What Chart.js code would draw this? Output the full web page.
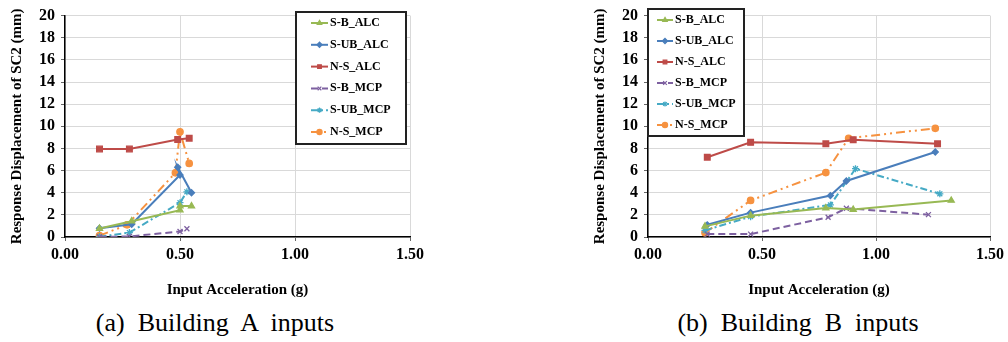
<!DOCTYPE html>
<html>
<head>
<meta charset="utf-8">
<script src="https://cdn.jsdelivr.net/npm/chart.js@4.4.0/dist/chart.umd.min.js"></script>
<style>
body { margin: 0; background: #fff; width: 1008px; height: 342px; overflow: hidden; position: relative; }
.box { position: absolute; top: 0; height: 300px; }
.cap { position: absolute; top: 308px; font-family: 'Liberation Serif', 'Times New Roman', serif; font-size: 26px; white-space: pre; transform: translateX(-50%); color: #000; }
</style>
</head>
<body>
<div class="box" style="left:0;width:500px"><canvas id="chartA"></canvas></div>
<div class="box" style="left:504px;width:504px"><canvas id="chartB"></canvas></div>
<div class="cap" style="left:215px">(a)  Building  A  inputs</div>
<div class="cap" style="left:798px">(b)  Building  B  inputs</div>
<script>
var names = ['S-B_ALC', 'S-UB_ALC', 'N-S_ALC', 'S-B_MCP', 'S-UB_MCP', 'N-S_MCP'];

// Building A inputs: [input acceleration (g), displacement (mm)]
var aSB_ALC  = [[0.15, 0.76], [0.29, 1.43], [0.50, 2.43], [0.50, 2.8], [0.55, 2.8]];
var aSUB_ALC = [[0.15, 0.8], [0.29, 1.15], [0.50, 5.6], [0.49, 6.3], [0.55, 4.0]];
var aNS_ALC  = [[0.15, 7.95], [0.28, 7.95], [0.49, 8.8], [0.54, 8.92]];
var aSB_MCP  = [[0.15, 0.0], [0.28, 0.05], [0.50, 0.5], [0.53, 0.75]];
var aSUB_MCP = [[0.15, 0.02], [0.28, 0.4], [0.50, 3.1], [0.53, 4.08]];
var aNS_MCP  = [[0.15, 0.12], [0.27, 1.1], [0.48, 5.8], [0.50, 9.5], [0.54, 6.65]];

// Building B inputs
var bSB_ALC  = [[0.25, 0.96], [0.45, 1.93], [0.78, 2.62], [0.90, 2.48], [1.33, 3.3]];
var bSUB_ALC = [[0.26, 1.1], [0.45, 2.2], [0.80, 3.74], [0.87, 5.06], [1.26, 7.68]];
var bNS_ALC  = [[0.26, 7.2], [0.45, 8.55], [0.78, 8.42], [0.90, 8.78], [1.27, 8.42]];
var bSB_MCP  = [[0.26, 0.26], [0.45, 0.26], [0.79, 1.78], [0.87, 2.6], [1.23, 2.02]];
var bSUB_MCP = [[0.25, 0.6], [0.45, 1.84], [0.80, 2.9], [0.91, 6.17], [1.28, 3.9]];
var bNS_MCP  = [[0.25, 0.38], [0.45, 3.3], [0.78, 5.82], [0.88, 8.92], [1.26, 9.82]];

var colors = ['#98B954', '#4A7EBB', '#BE4B48', '#7D60A0', '#46AAC5', '#F69240'];
var markers = ['triangle', 'rectRot', 'rect', 'crossRot', 'star', 'circle'];
var radii = [3.5, 3, 4, 3.5, 3.5, 3.2];
var dashes = [[], [], [], [7, 4], [7, 3, 2, 3], [9, 4, 2, 4, 2, 4]];

var serif = "'Liberation Serif', 'Times New Roman', serif";

function makeDatasets(list) {
    return list.map(function (pts, i) {
        return {
            label: names[i],
            data: pts.map(function (p) { return { x: p[0], y: p[1] }; }),
            showLine: true,
            borderColor: colors[i],
            backgroundColor: colors[i],
            borderWidth: 2,
            borderDash: dashes[i],
            pointStyle: markers[i],
            pointRadius: radii[i],
            pointBorderWidth: 1.3,
            pointBorderColor: colors[i],
            pointBackgroundColor: colors[i]
        };
    });
}

// legend box drawn inside the plot, like the Excel one
var boxLegend = {
    id: 'boxLegend',
    afterDraw: function (chart, args, o) {
        var ctx = chart.ctx;
        ctx.save();
        ctx.fillStyle = '#fff';
        ctx.fillRect(o.x, o.y, o.w, o.h);
        ctx.strokeStyle = '#222';
        ctx.lineWidth = 2;
        ctx.strokeRect(o.x, o.y, o.w, o.h);
        chart.data.datasets.forEach(function (ds, i) {
            var cy = o.y + o.first + i * o.rowH;
            var x0 = o.x + o.pad;
            ctx.setLineDash(ds.borderDash);
            ctx.strokeStyle = ds.borderColor;
            ctx.lineWidth = 2;
            ctx.beginPath();
            ctx.moveTo(x0, cy);
            ctx.lineTo(x0 + o.sample, cy);
            ctx.stroke();
            ctx.setLineDash([]);
            ctx.fillStyle = ds.borderColor;
            ctx.lineWidth = 1.2;
            Chart.helpers.drawPoint(ctx, { pointStyle: ds.pointStyle, radius: 2.6, rotation: 0, borderWidth: 1.2 }, x0 + o.sample / 2, cy);
            ctx.fillStyle = '#000';
            ctx.font = 'bold 12px ' + serif;
            ctx.textBaseline = 'middle';
            ctx.textAlign = 'left';
            ctx.fillText(ds.label, x0 + o.sample + 2, cy);
        });
        ctx.restore();
    }
};

function makeChart(id, list, padLeft, padRight, legend) {
    var tickFont = { family: serif, size: 16, weight: 'bold' };
    var grid = { color: '#d9d9d9', tickColor: '#666', tickLength: 4, lineWidth: 1 };
    return new Chart(document.getElementById(id), {
        type: 'scatter',
        data: { datasets: makeDatasets(list) },
        options: {
            responsive: true,
            maintainAspectRatio: false,
            animation: false,
            layout: { padding: { left: padLeft, right: padRight, top: 9, bottom: 0 } },
            plugins: {
                legend: { display: false },
                tooltip: { enabled: false },
                boxLegend: legend
            },
            scales: {
                x: {
                    type: 'linear', min: 0, max: 1.5,
                    afterFit: function (s) { s.height = 63; },
                    ticks: { stepSize: 0.5, padding: 4, color: '#000', font: tickFont, maxRotation: 0, autoSkip: false,
                        callback: function (v) { return v.toFixed(2); } },
                    grid: grid,
                    border: { color: '#000', width: 1.5 },
                    title: { display: true, text: 'Input Acceleration (g)', color: '#000',
                        font: { family: serif, size: 15, weight: 'bold' }, padding: { top: 0, bottom: 1 } }
                },
                y: {
                    min: 0, max: 20,
                    afterFit: function (s) { s.width = 65; },
                    ticks: { stepSize: 2, padding: 6, color: '#000', font: tickFont, autoSkip: false },
                    grid: grid,
                    border: { color: '#000', width: 1.5 },
                    title: { display: true, text: 'Response Displacement of SC2 (mm)', color: '#000',
                        font: { family: serif, size: 15, weight: 'bold' }, padding: { top: 8, bottom: 0 } }
                }
            }
        },
        plugins: [boxLegend]
    });
}

makeChart('chartA', [aSB_ALC, aSUB_ALC, aNS_ALC, aSB_MCP, aSUB_MCP, aNS_MCP], 0, 90,
    { x: 296, y: 12, w: 110, h: 132, first: 11, rowH: 21.8, pad: 15, sample: 17 });
makeChart('chartB', [bSB_ALC, bSUB_ALC, bNS_ALC, bSB_MCP, bSUB_MCP, bNS_MCP], 79, 15,
    { x: 144, y: 9, w: 96, h: 127, first: 11, rowH: 21, pad: 9, sample: 16 });
</script>
</body>
</html>
